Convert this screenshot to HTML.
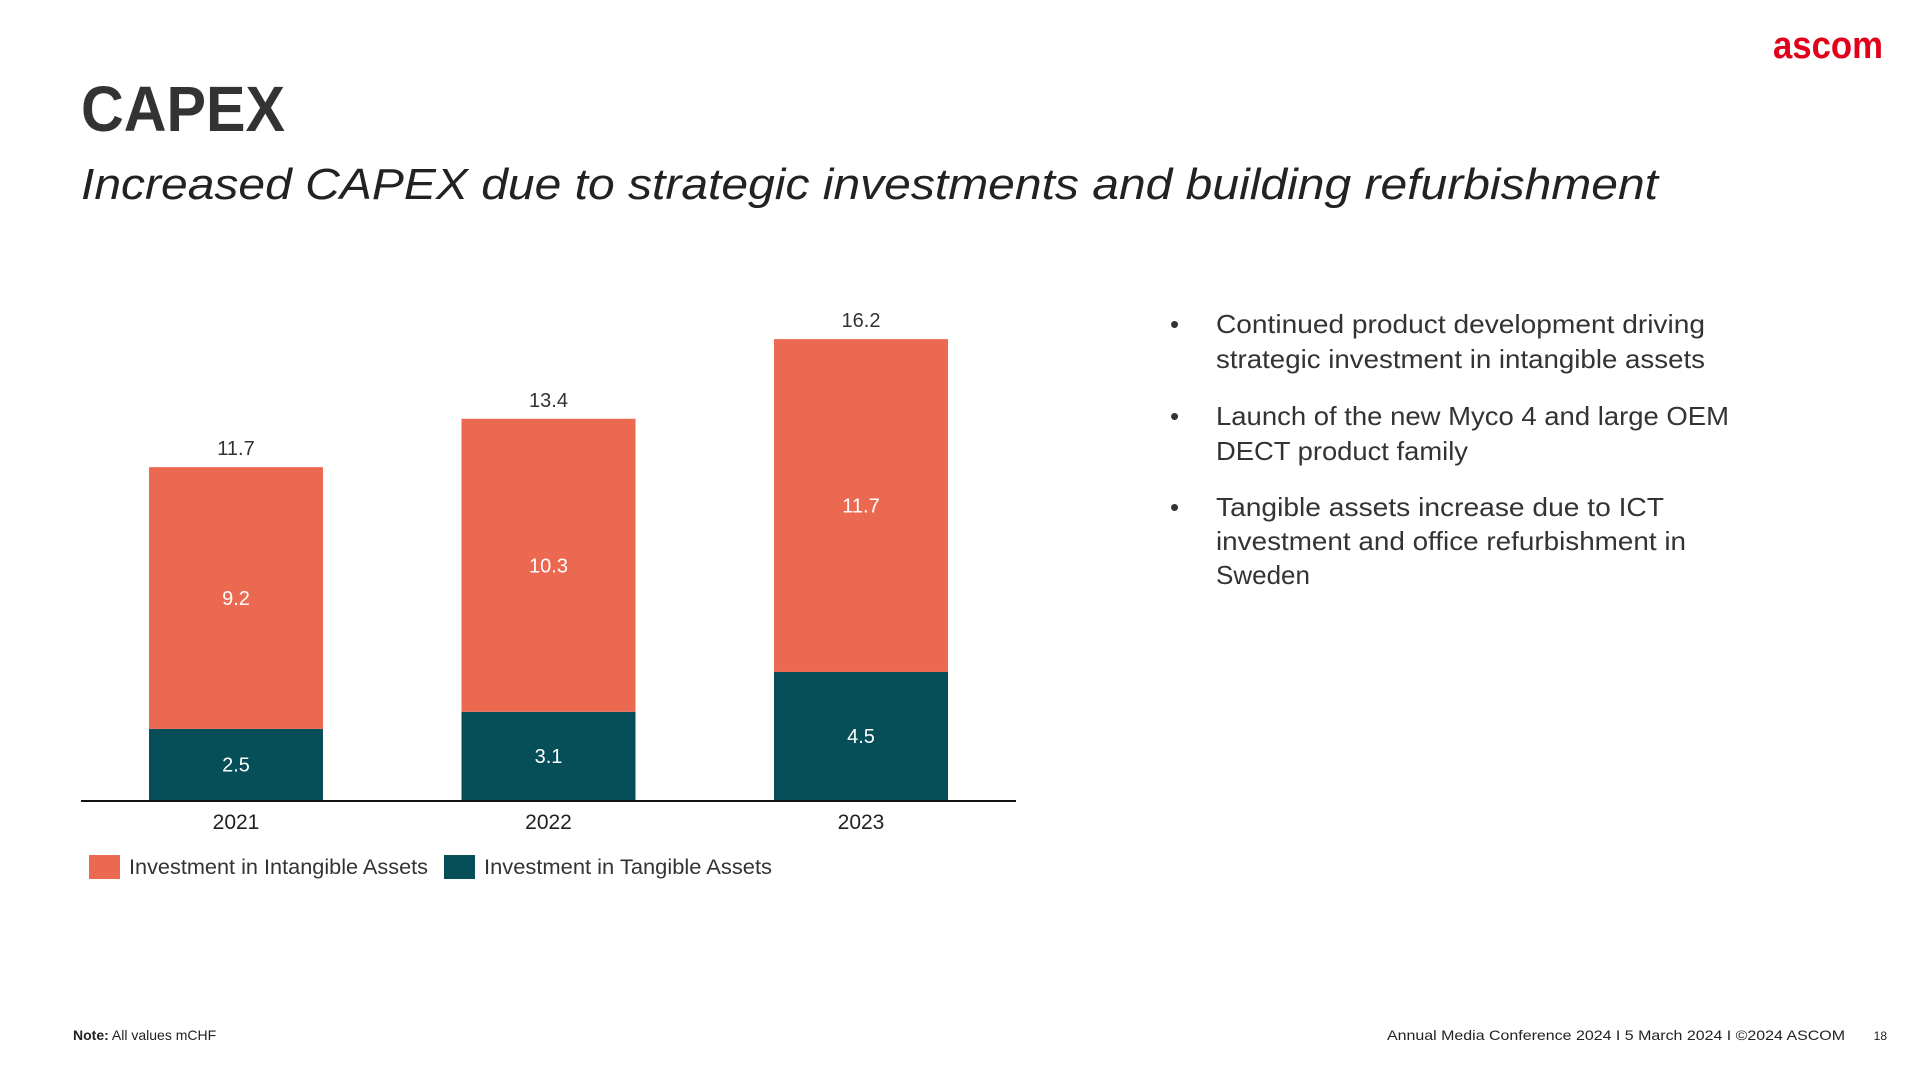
<!DOCTYPE html>
<html><head><meta charset="utf-8"><style>
html,body{margin:0;padding:0;background:#fff;}
svg{display:block;font-family:"Liberation Sans",sans-serif;}
</style></head><body>
<svg id="slide" width="1920" height="1080" viewBox="0 0 1920 1080">
<text x="1773" y="58" font-size="38" font-weight="bold" fill="#e2001a" textLength="110" lengthAdjust="spacingAndGlyphs">ascom</text>
<text x="81" y="131" font-size="64" font-weight="bold" fill="#333" textLength="204" lengthAdjust="spacingAndGlyphs">CAPEX</text>
<text x="81" y="199" font-size="44" font-style="italic" fill="#222" textLength="1577" lengthAdjust="spacingAndGlyphs">Increased CAPEX due to strategic investments and building refurbishment</text>
<g id="chart"></g>
<g fill="#333" font-size="26">
<text x="1170" y="333">•</text>
<text x="1216" y="333" textLength="489" lengthAdjust="spacingAndGlyphs">Continued product development driving</text>
<text x="1216" y="368" textLength="489" lengthAdjust="spacingAndGlyphs">strategic investment in intangible assets</text>
<text x="1170" y="425">•</text>
<text x="1216" y="425" textLength="513" lengthAdjust="spacingAndGlyphs">Launch of the new Myco 4 and large OEM</text>
<text x="1216" y="460" textLength="252" lengthAdjust="spacingAndGlyphs">DECT product family</text>
<text x="1170" y="516">•</text>
<text x="1216" y="516" textLength="448" lengthAdjust="spacingAndGlyphs">Tangible assets increase due to ICT</text>
<text x="1216" y="550" textLength="470" lengthAdjust="spacingAndGlyphs">investment and office refurbishment in</text>
<text x="1216" y="584">Sweden</text>
</g>
<text x="73" y="1040" font-size="14" fill="#222"><tspan font-weight="bold">Note:</tspan> All values mCHF</text>
<text x="1845" y="1040" font-size="14" fill="#222" text-anchor="end" textLength="458" lengthAdjust="spacingAndGlyphs">Annual Media Conference 2024 I 5 March 2024 I ©2024 ASCOM</text>
<text x="1887" y="1040" font-size="12" fill="#222" text-anchor="end">18</text>
</svg>
<script>
const categories = ["2021", "2022", "2023"];
const tangible = [2.5, 3.1, 4.5];
const intangible = [9.2, 10.3, 11.7];
const totals = [11.7, 13.4, 16.2];
const seriesNames = ["Investment in Intangible Assets", "Investment in Tangible Assets"];

const NS = "http://www.w3.org/2000/svg";
const g = document.getElementById("chart");
const baseY = 800, pxPerUnit = 28.45, barW = 174, firstX = 149, step = 312.5;
const ORANGE = "#eb6851", TEAL = "#064f59";
function xPos(i){ return firstX + i*step; }
function yPos(v){ return baseY - v*pxPerUnit; }
function mk(tag, attrs){ const e=document.createElementNS(NS,tag); for(const k in attrs) e.setAttribute(k, attrs[k]); g.appendChild(e); return e; }
function txt(x,y,s,size,fill,anchor){ const t=mk("text",{x:x,y:y,"font-size":size,fill:fill,"text-anchor":anchor||"middle"}); t.textContent=s; return t; }

categories.forEach((c,i)=>{
  const x = xPos(i);
  const yT = yPos(tangible[i]);
  const yI = yPos(tangible[i]+intangible[i]);
  const r1 = mk("rect",{x:x,y:yT,width:barW,height:baseY-yT,fill:TEAL});
  
  
  const r2 = mk("rect",{x:x,y:yI,width:barW,height:yT-yI,fill:ORANGE});
  
  
  const l1 = txt(x+barW/2,(yT+baseY)/2+7,String(tangible[i]),20,"#fff");
  
  
  const l2 = txt(x+barW/2,(yI+yT)/2+7,String(intangible[i]),20,"#fff");
  
  
  const l3 = txt(x+barW/2,yPos(totals[i])-12,String(totals[i]),20,"#333");
  
  
  const l4 = txt(x+barW/2,829,c,21,"#222");
  
  
});
const ax = mk("line",{x1:81,y1:801,x2:1016,y2:801,stroke:"#111","stroke-width":2});



const legX = [89, 444];
const legC = [ORANGE, TEAL];
const legW = [299, 288];
seriesNames.forEach((n,i)=>{
  const sw = mk("rect",{x:legX[i],y:855,width:31,height:24,fill:legC[i]});
  
  
  const t = txt(legX[i]+40,874,n,21,"#333","start");
  t.setAttribute('textLength', legW[i]);
  t.setAttribute('lengthAdjust', 'spacingAndGlyphs');
  
  
});
</script>
</body></html>
